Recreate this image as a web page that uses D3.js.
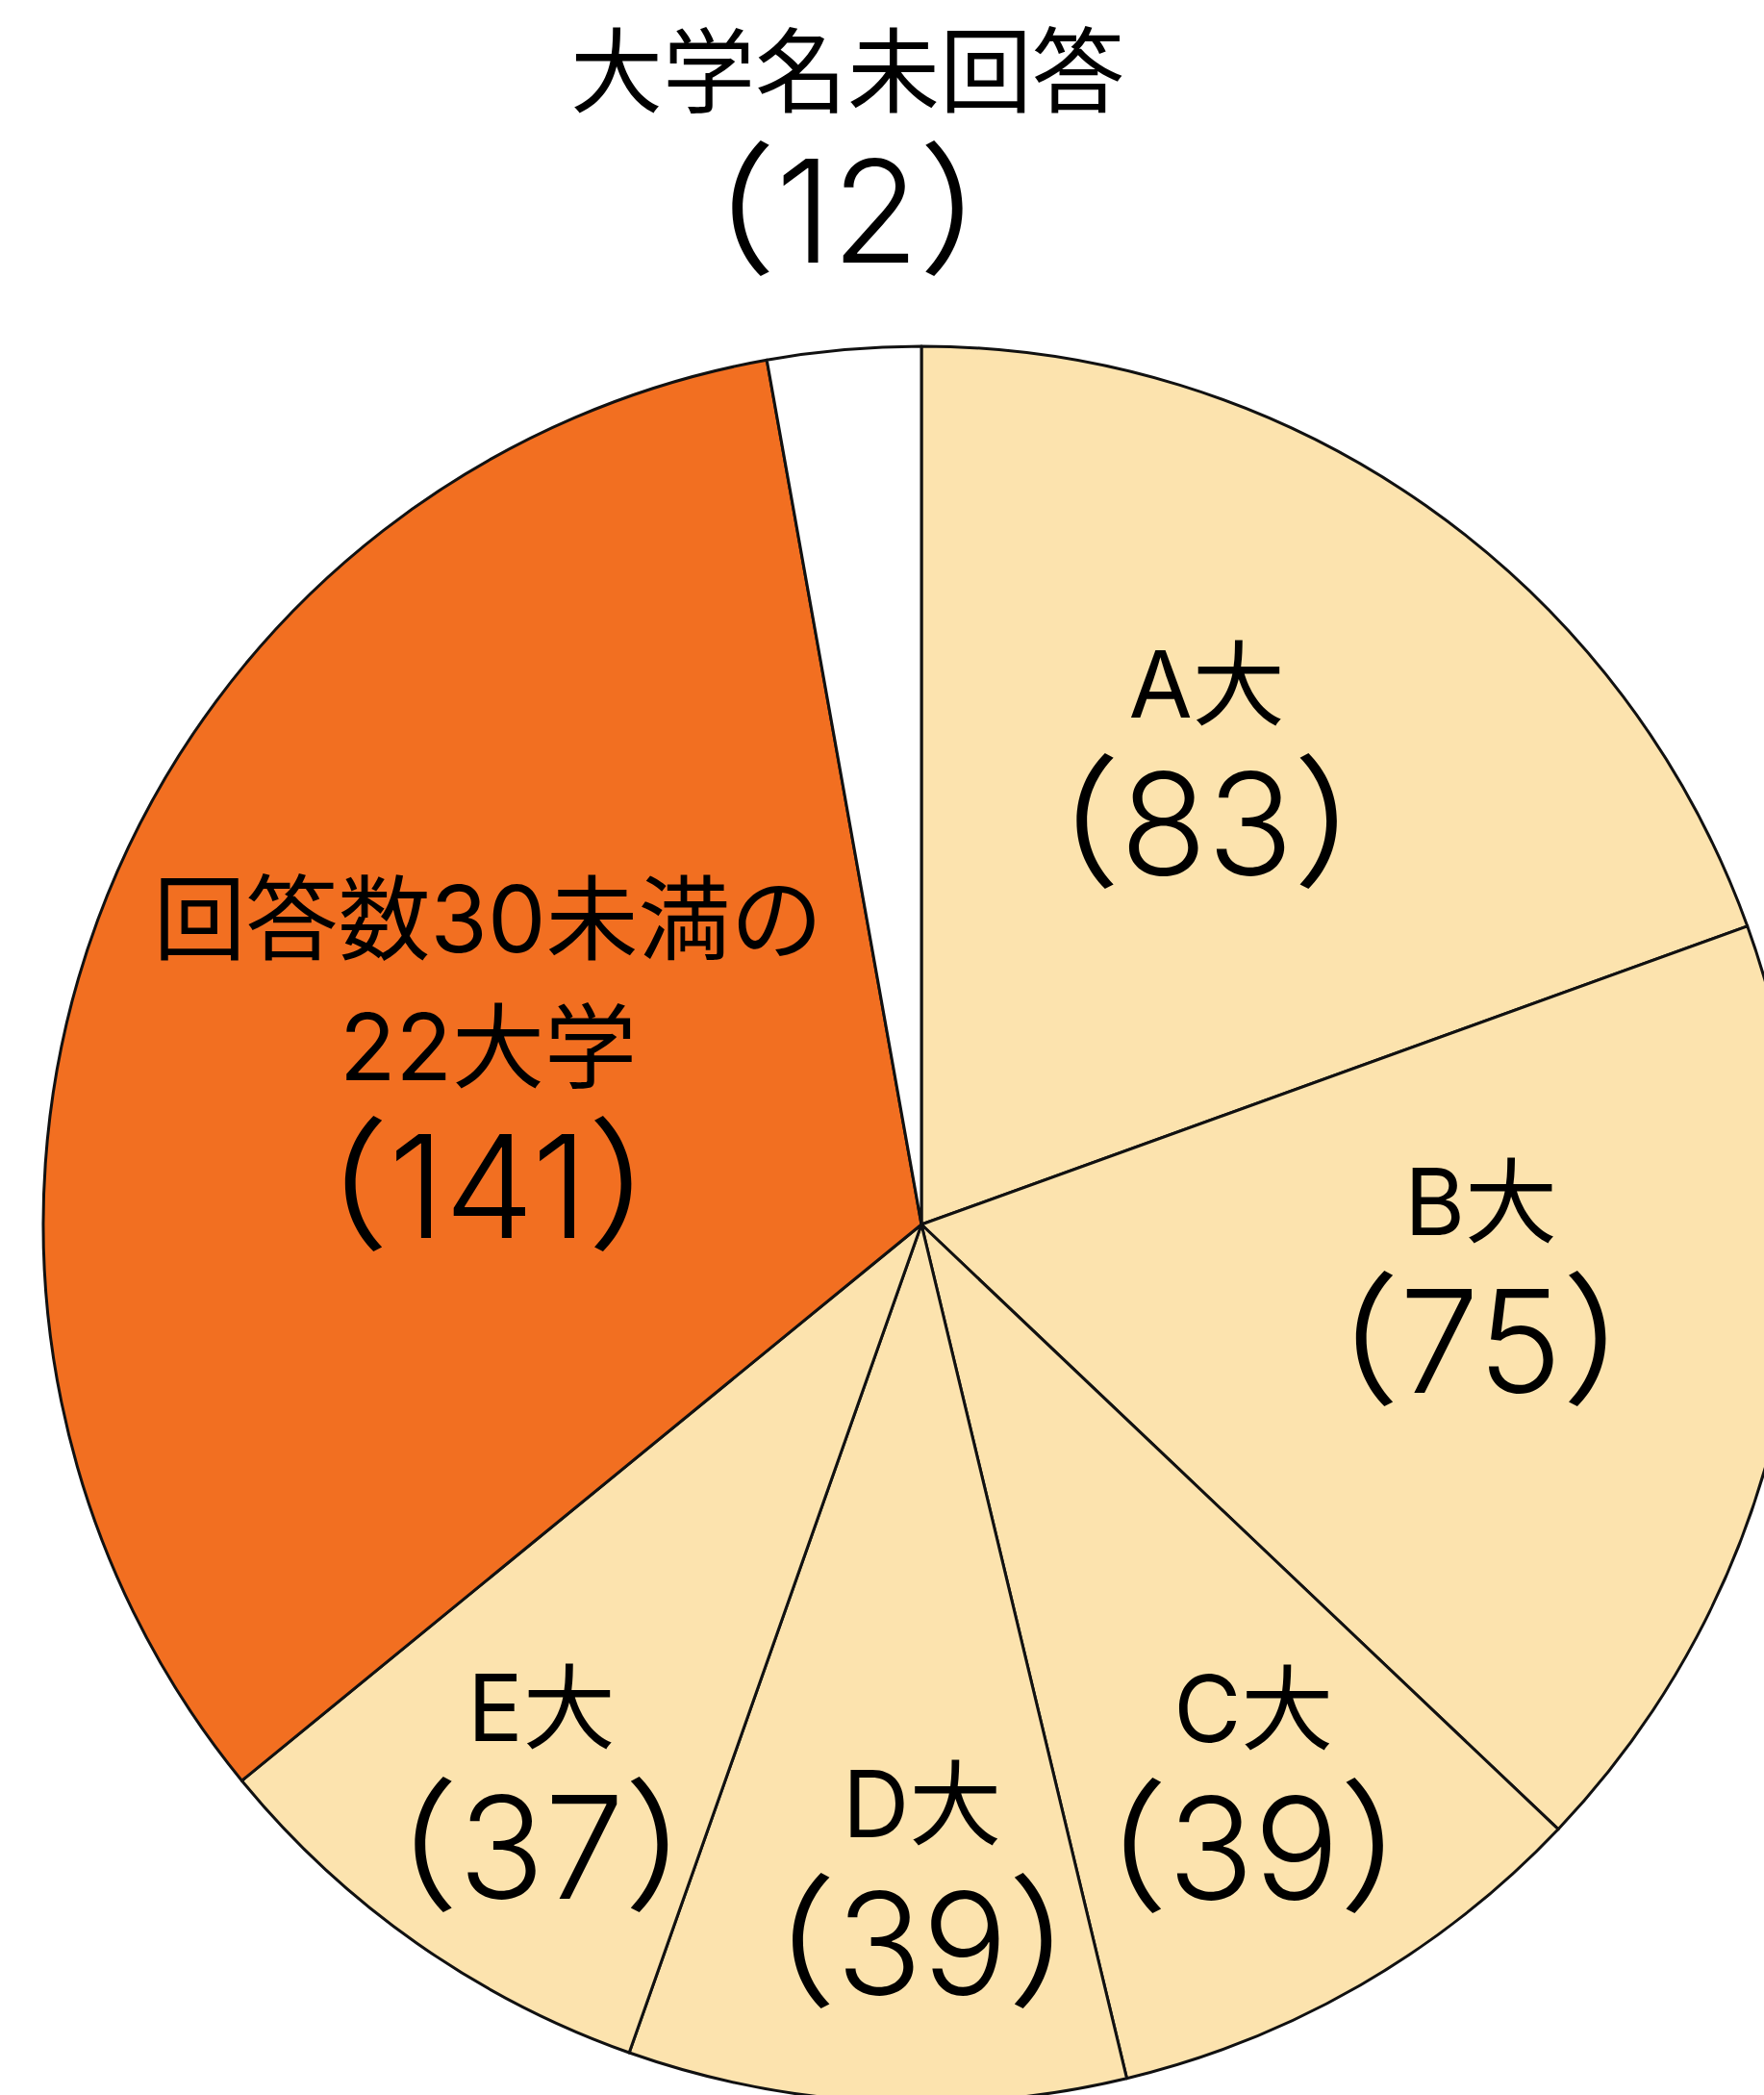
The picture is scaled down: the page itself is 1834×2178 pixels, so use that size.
<!DOCTYPE html>
<html lang="ja">
<head>
<meta charset="UTF-8">
<title>pie</title>
<script src="https://cdn.jsdelivr.net/npm/d3@7"></script>
<style>
  body { margin: 0; background: #fff; }
  svg { display: block; }
</style>
</head>
<body>
<script>
  // data
  const categories = ["A大", "B大", "C大", "D大", "E大", "回答数30未満の22大学", "大学名未回答"];
  const values = [83, 75, 39, 39, 37, 141, 12];
  const labelLines = [["A大"], ["B大"], ["C大"], ["D大"], ["E大"], ["回答数30未満の", "22大学"], ["大学名未回答"]];

  const width = 1834;
  const height = 2178;
  const cx = 958, cy = 1273, radius = 913;

  // label placement (radius from centre, small angle nudge in degrees)
  const labelRadius = [535, 589, 710, 719, 734, 470, 1085];
  const labelNudge = [-1.4, -2.7, 0.9, -3.0, -2.5, -3.7, 1.0];

  const color = d3.scaleOrdinal()
    .domain(categories)
    .range(["#FCE3AE", "#FCE3AE", "#FCE3AE", "#FCE3AE", "#FCE3AE", "#F26F21", "#FFFFFF"]);

  const svg = d3.select("body").append("svg")
    .attr("width", width)
    .attr("height", height)
    .attr("viewBox", [0, 0, width, height]);

  const data = categories.map((c, i) => ({ name: c, value: values[i], lines: labelLines[i], i }));

  const pie = d3.pie().sort(null).value(d => d.value);
  const arcs = pie(data);

  const arc = d3.arc().innerRadius(0).outerRadius(radius);

  const g = svg.append("g").attr("transform", `translate(${cx},${cy})`);

  g.selectAll("path")
    .data(arcs)
    .join("path")
    .attr("d", arc)
    .attr("fill", d => color(d.data.name))
    .attr("stroke", "#111")
    .attr("stroke-width", 3)
    .attr("stroke-linejoin", "round");

  // labels
  const font = "Inter, 'Noto Sans CJK JP', sans-serif";
  const smallSize = 96, bigSize = 148;
  const smallStep = 133, bigStep = 164;

  const labels = g.selectAll("g.label")
    .data(arcs)
    .join("g")
    .attr("class", "label")
    .attr("transform", d => {
      const i = d.data.i;
      const mid = (d.startAngle + d.endAngle) / 2 + labelNudge[i] * Math.PI / 180;
      const r = labelRadius[i];
      const c = d3.arc().innerRadius(r).outerRadius(r).startAngle(mid).endAngle(mid).centroid();
      return `translate(${c[0]},${c[1]})`;
    });

  labels.each(function(d) {
    const sel = d3.select(this);
    const lines = d.data.lines;
    const total = (lines.length - 1) * smallStep + bigStep;
    let y = -total / 2;
    lines.forEach(t => {
      sel.append("text")
        .attr("y", y)
        .attr("text-anchor", "middle")
        .attr("font-family", font)
        .attr("font-size", smallSize)
        .attr("fill", "#000")
        .text(t);
      y += smallStep;
    });
    y += bigStep - smallStep;
    const big = sel.append("text")
      .attr("y", y)
      .attr("text-anchor", "middle")
      .attr("font-family", font)
      .attr("font-size", bigSize)
      .attr("fill", "#000");
    big.append("tspan").text("（");
    big.append("tspan").attr("font-weight", 350).text(d.data.value);
    big.append("tspan").text("）");
  });
</script>
</body>
</html>
